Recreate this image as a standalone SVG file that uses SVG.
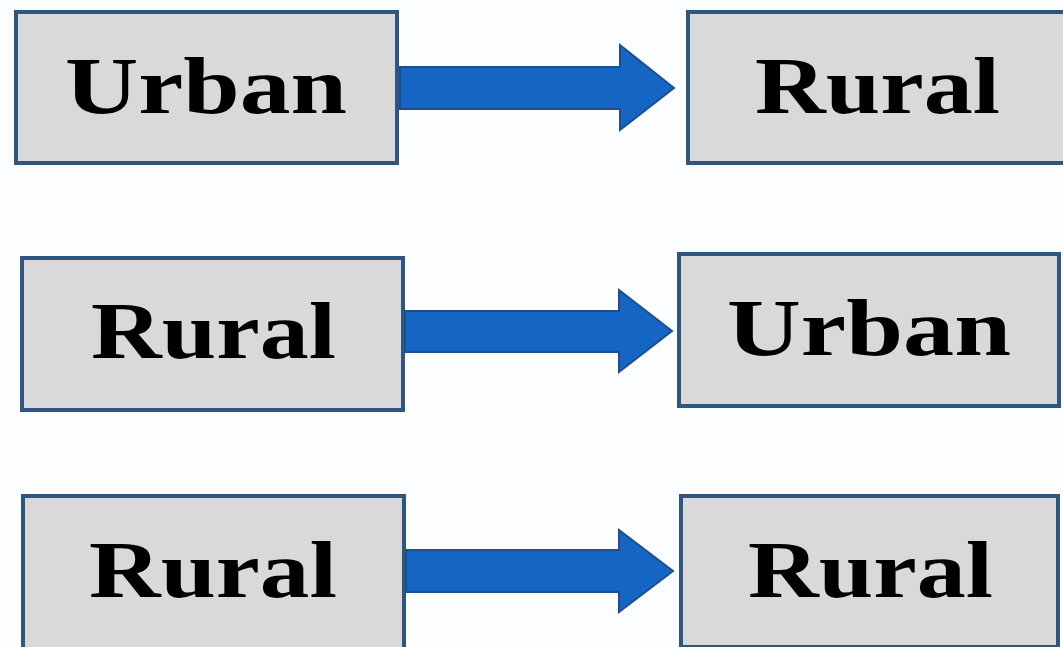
<svg xmlns="http://www.w3.org/2000/svg" width="1063" height="647" viewBox="0 0 1063 647">
<style>
.box{fill:#d9d9d9;stroke:#2f5680;stroke-width:4}
.lbl{font-family:"Liberation Serif","Times New Roman",serif;font-weight:bold;font-size:80px;fill:#000}
.arr{fill:#1565c4;stroke:#1d4f8a;stroke-width:2}
</style>
<rect width="1063" height="647" fill="#fbfdfe"/>
<g id="n1"><rect class="box" x="16" y="12" width="381" height="151"/><text class="lbl" x="65" y="113" textLength="282" lengthAdjust="spacingAndGlyphs">Urban</text></g>
<g id="n2"><rect class="box" x="688" y="12" width="378" height="151"/><text class="lbl" x="755" y="113" textLength="245" lengthAdjust="spacingAndGlyphs">Rural</text></g>
<g id="n3"><rect class="box" x="22" y="258" width="381" height="152"/><text class="lbl" x="91" y="358" textLength="245" lengthAdjust="spacingAndGlyphs">Rural</text></g>
<g id="n4"><rect class="box" x="679" y="254" width="380" height="152"/><text class="lbl" x="727" y="355" textLength="284" lengthAdjust="spacingAndGlyphs">Urban</text></g>
<g id="n5"><rect class="box" x="23" y="496" width="381" height="153"/><text class="lbl" x="89" y="597" textLength="248" lengthAdjust="spacingAndGlyphs">Rural</text></g>
<g id="n6"><rect class="box" x="681" y="496" width="377" height="151"/><text class="lbl" x="748" y="597" textLength="245" lengthAdjust="spacingAndGlyphs">Rural</text></g>
<g id="connectors">
<path class="arr" d="M400 67 H620 V45 L674 88 L620 130 V109 H400 Z"/>
<path class="arr" d="M405 311 H619 V290 L672 331 L619 372 V352 H405 Z"/>
<path class="arr" d="M406 550 H619 V530 L673 571 L619 612 V592 H406 Z"/>
</g>
</svg>
